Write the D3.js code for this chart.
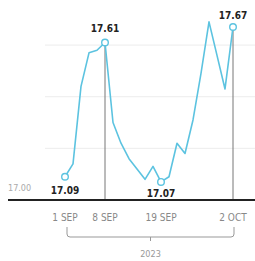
<!DOCTYPE html>
<html>
<head>
<meta charset="utf-8">
<script src="https://cdn.jsdelivr.net/npm/d3@7"></script>
<style>
  body { margin: 0; background: #fff; }
  svg { display: block; }
</style>
</head>
<body>
<div id="chart"></div>
<script>
// trading days, 1 Sep - 2 Oct 2023
var dates = ["1 SEP", "4 SEP", "5 SEP", "6 SEP", "7 SEP", "8 SEP",
  "11 SEP", "12 SEP", "13 SEP", "14 SEP", "15 SEP", "18 SEP", "19 SEP",
  "20 SEP", "21 SEP", "22 SEP", "25 SEP", "26 SEP", "27 SEP", "28 SEP", "29 SEP", "2 OCT"];
var values = [17.09, 17.14, 17.44, 17.57, 17.58, 17.61,
  17.30, 17.22, 17.16, 17.12, 17.08, 17.13, 17.07,
  17.09, 17.22, 17.18, 17.31, 17.49, 17.69, 17.56, 17.43, 17.67];
var tickLabels = ["1 SEP", "8 SEP", "19 SEP", "2 OCT"];
var markedDays = ["1 SEP", "8 SEP", "19 SEP", "2 OCT"];
var gridValues = [17.2, 17.4, 17.6];
var baseValue = 17.00;
var yearLabel = "2023";

var svgWidth = 255;
var svgHeight = 261;

var svg = d3.select("#chart")
  .append("svg")
  .attr("width", svgWidth)
  .attr("height", svgHeight);

var x = d3.scalePoint()
  .domain(dates)
  .range([65, 233]);

var y = d3.scaleLinear()
  .domain([17.00, 17.67])
  .range([200, 27]);

var lineColor = "#5cc3e0";

// grid
svg.selectAll(".grid")
  .data(gridValues)
  .enter()
  .append("line")
  .attr("x1", 45)
  .attr("x2", svgWidth)
  .attr("y1", d => y(d))
  .attr("y2", d => y(d))
  .attr("stroke", "#ececec")
  .attr("stroke-width", 1);

// vertical guides at the high points
var guides = [dates[5], dates[21]];
svg.selectAll(".guide")
  .data(guides)
  .enter()
  .append("line")
  .attr("x1", d => x(d))
  .attr("x2", d => x(d))
  .attr("y1", d => y(values[dates.indexOf(d)]) + 3)
  .attr("y2", y(baseValue))
  .attr("stroke", "#777")
  .attr("stroke-width", 1);

var line = d3.line()
  .x((d, i) => x(dates[i]))
  .y(d => y(d));

svg.append("path")
  .datum(values)
  .attr("d", line)
  .attr("fill", "none")
  .attr("stroke", lineColor)
  .attr("stroke-width", 1.6)
  .attr("stroke-linejoin", "round");

// base axis
svg.append("line")
  .attr("x1", 8)
  .attr("x2", svgWidth)
  .attr("y1", y(baseValue))
  .attr("y2", y(baseValue))
  .attr("stroke", "#222")
  .attr("stroke-width", 2);

svg.append("text")
  .attr("x", 8)
  .attr("y", y(baseValue) - 9)
  .style("font", "9px 'DejaVu Sans Condensed', sans-serif")
  .style("fill", "#aaa")
  .text(baseValue.toFixed(2));

// markers
svg.selectAll(".marker")
  .data(markedDays)
  .enter()
  .append("circle")
  .attr("cx", d => x(d))
  .attr("cy", d => y(values[dates.indexOf(d)]))
  .attr("r", 3.3)
  .attr("fill", "#fff")
  .attr("stroke", lineColor)
  .attr("stroke-width", 1.4);

// value labels
var labelOffset = { "1 SEP": 17, "8 SEP": -10, "19 SEP": 15, "2 OCT": -8 };
svg.selectAll(".vlabel")
  .data(markedDays)
  .enter()
  .append("text")
  .attr("x", d => x(d))
  .attr("y", d => y(values[dates.indexOf(d)]) + labelOffset[d])
  .attr("text-anchor", "middle")
  .style("font", "bold 10px 'DejaVu Sans Condensed', sans-serif")
  .style("fill", "#222")
  .text(d => values[dates.indexOf(d)].toFixed(2));

// x tick labels
svg.selectAll(".tick")
  .data(tickLabels)
  .enter()
  .append("text")
  .attr("x", d => x(d))
  .attr("y", 221)
  .attr("text-anchor", "middle")
  .style("font", "10px 'DejaVu Sans Condensed', sans-serif")
  .style("fill", "#888")
  .text(d => d);

// year bracket
var bx0 = x(tickLabels[0]) + 2;
var bx1 = x(tickLabels[3]) + 1;
var bmid = (bx0 + bx1) / 2;
svg.append("path")
  .attr("d", "M" + bx0 + ",227 L" + bx0 + ",234 Q" + bx0 + ",237 " + (bx0 + 3) + ",237" +
    " L" + (bx1 - 3) + ",237 Q" + bx1 + ",237 " + bx1 + ",234 L" + bx1 + ",227" +
    " M" + bmid + ",237 L" + bmid + ",241")
  .attr("fill", "none")
  .attr("stroke", "#999")
  .attr("stroke-width", 1);

svg.append("text")
  .attr("x", bmid)
  .attr("y", 257)
  .attr("text-anchor", "middle")
  .style("font", "9px 'DejaVu Sans Condensed', sans-serif")
  .style("fill", "#999")
  .text(yearLabel);
</script>
</body>
</html>
